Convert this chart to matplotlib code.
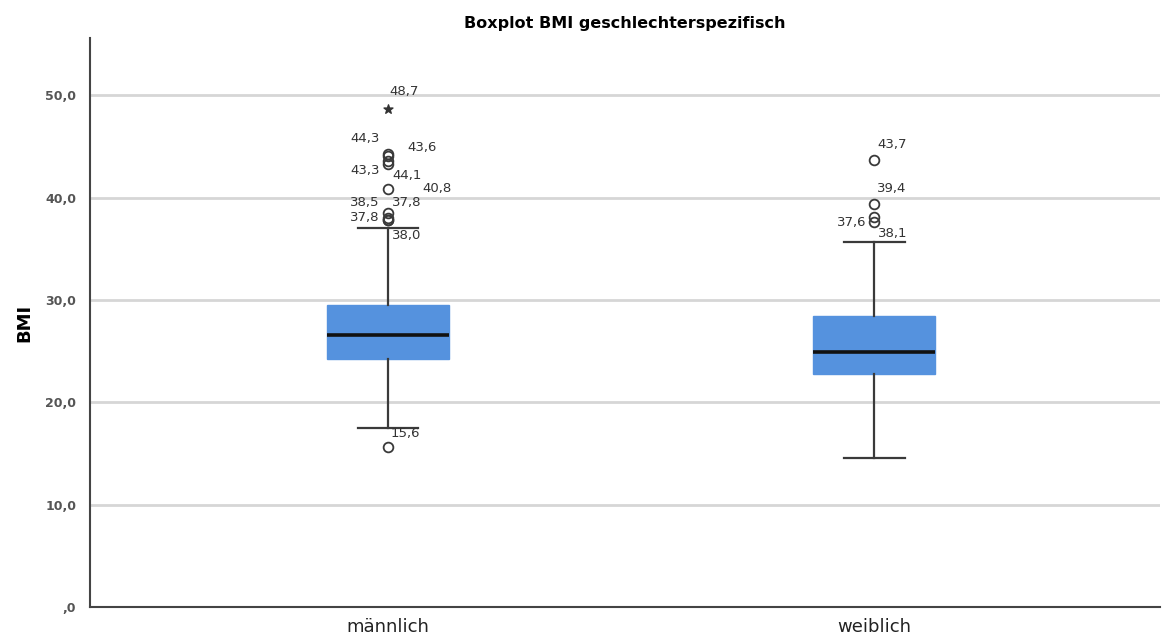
import matplotlib.pyplot as plt
from matplotlib.ticker import FuncFormatter

groups = ["männlich", "weiblich"]
q1 = [24.2, 22.8]
median = [26.6, 24.9]
q3 = [29.5, 28.4]
whis_lo = [17.5, 14.6]
whis_hi = [37.0, 35.7]
outliers_m = [15.6, 37.8, 37.8, 38.0, 38.5, 40.8, 43.3, 44.1, 43.6, 44.3]
outliers_w = [37.6, 38.1, 39.4, 43.7]
extreme_m = [48.7]

# label offsets in pixels for each outlier (dx, dy)
offs_m = [(3, 10), (4, 14), (-38, -1), (4, -21), (-38, 7), (34, -3), (-38, -10), (4, -23), (19, 10), (-38, 12)]
offs_w = [(-37, -4), (4, -20), (3, 12), (3, 12)]

fig = plt.figure(figsize=(11.69, 6.42), dpi=100)
ax = fig.add_axes([90/1169, 35/642, 1070/1169, 569/642])

stats = []
for i in range(2):
    stats.append(dict(q1=q1[i], med=median[i], q3=q3[i], whislo=whis_lo[i], whishi=whis_hi[i],
                      fliers=[outliers_m, outliers_w][i]))

ax.bxp(stats, positions=[1, 2], widths=0.25, capwidths=0.125, patch_artist=True,
       boxprops=dict(facecolor="#5592de", edgecolor="#5592de", linewidth=1),
       medianprops=dict(color="#111111", linewidth=2.6),
       whiskerprops=dict(color="#3a3a3a", linewidth=1.6),
       capprops=dict(color="#3a3a3a", linewidth=1.6),
       flierprops=dict(marker="o", markersize=7, markerfacecolor="none",
                       markeredgecolor="#3a3a3a", markeredgewidth=1.3),
       zorder=3)

ax.scatter([1] * len(extreme_m), extreme_m, marker="*", s=45, color="#333333", zorder=4)
ax.annotate("48,7", (1, extreme_m[0]), xytext=(1, 14), textcoords="offset pixels",
            fontsize=9.5, color="#333333")

for vals, offs, pos in [(outliers_m, offs_m, 1), (outliers_w, offs_w, 2)]:
    for v, (dx, dy) in zip(vals, offs):
        ax.annotate(f"{v:.1f}".replace(".", ","), (pos, v), xytext=(dx, dy),
                    textcoords="offset pixels", fontsize=9.5, color="#333333")

ax.set_xlim(0.387, 2.588)
ax.set_ylim(0, 55.6)
ax.set_yticks([0, 10, 20, 30, 40, 50])
ax.yaxis.set_major_formatter(FuncFormatter(lambda v, p: ",0" if v == 0 else f"{v:.1f}".replace(".", ",")))
ax.set_xticks([1, 2])
ax.set_xticklabels(groups, fontsize=13, color="#222222")
ax.tick_params(axis="y", length=0, labelsize=9, labelcolor="#555555", pad=10)
ax.tick_params(axis="x", length=0, pad=8)
for lbl in ax.get_yticklabels():
    lbl.set_fontweight("bold")

ax.grid(axis="y", color="#d6d6d6", linewidth=2)
ax.set_axisbelow(True)
for s in ["top", "right"]:
    ax.spines[s].set_visible(False)
for s in ["left", "bottom"]:
    ax.spines[s].set_color("#444444")
    ax.spines[s].set_linewidth(1.5)

ax.set_ylabel("BMI", fontsize=13, fontweight="bold")
ax.yaxis.set_label_coords(-0.053, 0.5)
ax.set_title("Boxplot BMI geschlechterspezifisch", fontsize=11.5, fontweight="bold", pad=7)

fig.savefig("out.png", dpi=100)
